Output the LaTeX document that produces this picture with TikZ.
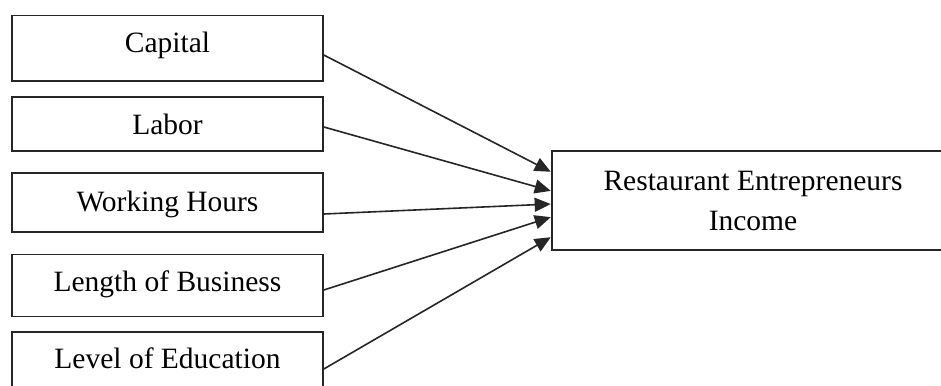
\documentclass[tikz,border=0pt]{standalone}
\usepackage{fontspec}
\setmainfont{Liberation Serif}
\usetikzlibrary{arrows.meta,calc}
\begin{document}
\begin{tikzpicture}[x=1pt,y=-1pt,
  box/.style={draw=black!85,line width=1.6pt,rectangle,inner sep=0pt,
    font=\fontsize{29.5}{40}\selectfont},
  leftbox/.style={box,minimum width=311pt,text height=24pt},
  link/.style={draw=black!85,line width=1.6pt,-{Triangle[length=16pt,width=14pt]},shorten >=0.5pt}]
\clip (0,0) rectangle (941,385);
\fill[white] (0,0) rectangle (941,385);
\node[leftbox,minimum height=65.6pt,text depth=15.6pt] (cap) at (167.5,48.5) {Capital};
\node[leftbox,minimum height=54pt,text depth=2pt] (lab) at (167.5,124) {Labor};
\node[leftbox,minimum height=58.7pt,text depth=5.4pt] (wh) at (167.5,202.4) {Working Hours};
\node[leftbox,minimum height=62pt,text depth=11.2pt] (lob) at (167.5,285.3) {Length of Business};
\node[leftbox,minimum height=62pt,text depth=12.8pt] (loe) at (167.5,362.7) {Level of Education};
\node[box,minimum width=402pt,minimum height=99pt,align=center] (inc) at (753,200.5)
  {Restaurant Entrepreneurs\\Income};
\draw[link] ($(cap.east)+(0,6.5)$) -- ($(inc.west)+(0,-28.5)$);
\draw[link] ($(lab.east)+(0,3)$) -- ($(inc.west)+(0,-9.5)$);
\draw[link] ($(wh.east)+(0,11.6)$) -- ($(inc.west)+(0,3.5)$);
\draw[link] ($(lob.east)+(0,4.7)$) -- ($(inc.west)+(0,16.5)$);
\draw[link] ($(loe.east)+(0,6.3)$) -- ($(inc.west)+(0,36.5)$);
\end{tikzpicture}
\end{document}
